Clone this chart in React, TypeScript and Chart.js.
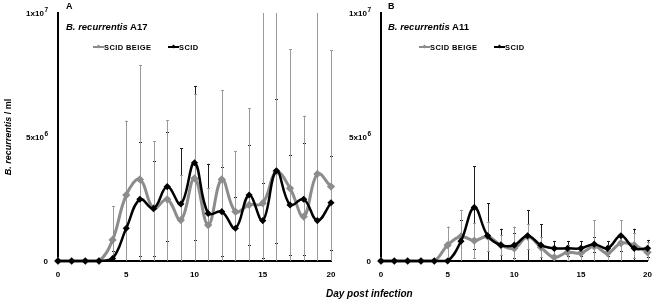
import React, { useEffect, useRef } from 'react';
import { Chart, registerables } from 'chart.js';

Chart.register(...registerables);

const FONT = "'Liberation Sans', Arial, Helvetica, sans-serif";

const days = [0, 1, 2, 3, 4, 5, 6, 7, 8, 9, 10, 11, 12, 13, 14, 15, 16, 17, 18, 19, 20];
const xTicks = [0, 5, 10, 15, 20];
const yTicks = [0, 5e6, 1e7];
const yTickBase = ['0', '5x10', '1x10'];
const yTickSup = ['', '6', '7'];

// Panel A: B. recurrentis A17
const a17Beige = [0, 0, 0, 0, 0.85e6, 2.66e6, 3.29e6, 2.12e6, 2.49e6, 1.65e6, 3.33e6, 1.45e6, 3.29e6, 1.99e6, 2.26e6, 2.33e6, 3.6e6, 2.93e6, 1.79e6, 3.51e6, 3.0e6];
const a17Scid = [0, 0, 0, 0, 0.1e6, 1.32e6, 2.49e6, 2.12e6, 3.0e6, 2.3e6, 3.96e6, 1.92e6, 1.99e6, 1.32e6, 2.66e6, 1.63e6, 3.64e6, 2.26e6, 2.49e6, 1.63e6, 2.35e6];
const a17BeigeErr = [0, 0, 0, 0, 1.37e6, 3.0e6, 4.6e6, 2.7e6, 3.2e6, 1.8e6, 3.4e6, 1.5e6, 3.6e6, 2.45e6, 3.9e6, 8.0e6, 7.0e6, 5.6e6, 4.07e6, 7.0e6, 5.5e6];
const a17ScidErr = [0, 0, 0, 0, 0.3e6, 1.3e6, 2.3e6, 1.9e6, 2.2e6, 2.25e6, 3.1e6, 2.0e6, 1.8e6, 1.26e6, 2.0e6, 1.5e6, 2.9e6, 2.0e6, 2.25e6, 1.9e6, 1.9e6];

// Panel B: B. recurrentis A11
const a11Beige = [0, 0, 0, 0, 0, 0.64e6, 0.99e6, 0.82e6, 0.99e6, 0.64e6, 0.51e6, 0.98e6, 0.55e6, 0.15e6, 0.35e6, 0.32e6, 0.59e6, 0.32e6, 0.72e6, 0.64e6, 0.35e6];
const a11Scid = [0, 0, 0, 0, 0, 0, 0.8e6, 2.16e6, 1.02e6, 0.64e6, 0.64e6, 1.02e6, 0.64e6, 0.51e6, 0.51e6, 0.51e6, 0.68e6, 0.51e6, 1.02e6, 0.51e6, 0.51e6];
const a11BeigeErr = [0, 0, 0, 0, 0, 0.75e6, 1.07e6, 0.7e6, 0.6e6, 0.4e6, 0.88e6, 0.5e6, 0.4e6, 0.3e6, 0.3e6, 0.3e6, 1.06e6, 0.3e6, 0.93e6, 0.5e6, 0.4e6];
const a11ScidErr = [0, 0, 0, 0, 0, 0, 0.87e6, 1.67e6, 1.3e6, 0.66e6, 0.5e6, 1.04e6, 0.84e6, 0.3e6, 0.3e6, 0.3e6, 0.3e6, 0.3e6, 0.63e6, 0.79e6, 0.34e6];

const GRAY = '#8c8c8c';
const GRAY_ERR = '#9a9a9a';
const BLACK = '#000000';
const BLACK_ERR = '#1e1e1e';

const errorBarPlugin = {
  id: 'errorBars',
  beforeDatasetsDraw(chart: any) {
    const { ctx, chartArea, scales } = chart;
    ctx.save();
    ctx.beginPath();
    ctx.rect(chartArea.left - 4, chartArea.top, chartArea.right - chartArea.left + 8, chartArea.bottom - chartArea.top);
    ctx.clip();
    chart.data.datasets.forEach((ds: any) => {
      const errs = ds.errors;
      if (!errs) return;
      ctx.strokeStyle = ds.errorColor;
      ctx.lineWidth = 1;
      ds.data.forEach((p: any, i: number) => {
        const e = errs[i];
        if (!e) return;
        const x = Math.round(scales.x.getPixelForValue(p.x)) + 0.5;
        const yTop = scales.y.getPixelForValue(p.y + e);
        const yBot = scales.y.getPixelForValue(Math.max(0, p.y - e));
        ctx.beginPath();
        ctx.moveTo(x, yTop);
        ctx.lineTo(x, yBot);
        ctx.moveTo(x - 1.5, Math.round(yTop) + 0.5);
        ctx.lineTo(x + 1.5, Math.round(yTop) + 0.5);
        ctx.moveTo(x - 1.5, Math.round(yBot) + 0.5);
        ctx.lineTo(x + 1.5, Math.round(yBot) + 0.5);
        ctx.stroke();
      });
    });
    ctx.restore();
  },
};

// y tick labels with a real superscript exponent, placed by the y scale
const yLabelPlugin = {
  id: 'yLabels',
  afterDraw(chart: any) {
    const { ctx, scales } = chart;
    const ys = scales.y;
    const right = ys.right - 10;
    ctx.save();
    ctx.fillStyle = '#000';
    yTicks.forEach((v, i) => {
      const y = ys.getPixelForValue(v);
      const sup = yTickSup[i];
      let x = right;
      if (sup) {
        ctx.font = `bold 6.5px ${FONT}`;
        ctx.textAlign = 'right';
        ctx.textBaseline = 'alphabetic';
        const w = ctx.measureText(sup).width;
        ctx.fillText(sup, x, y - 1);
        x -= w + 0.5;
      }
      ctx.font = `bold 8px ${FONT}`;
      ctx.textAlign = 'right';
      ctx.textBaseline = 'middle';
      ctx.fillText(yTickBase[i], x, y + 1);
    });
    ctx.restore();
  },
};

function toPoints(vals: number[]) {
  return days.map((d, i) => ({ x: d, y: vals[i] }));
}

type PanelProps = {
  left: number;
  width: number;
  padRight: number;
  yAxisWidth: number;
  beige: number[];
  scid: number[];
  beigeErr: number[];
  scidErr: number[];
};

function Panel({ left, width, padRight, yAxisWidth, beige, scid, beigeErr, scidErr }: PanelProps) {
  const ref = useRef<HTMLCanvasElement | null>(null);
  useEffect(() => {
    if (!ref.current) return;
    const tickFont = { family: FONT, size: 8, weight: 'bold' as const };
    const chart = new Chart(ref.current, {
      type: 'line',
      data: {
        datasets: [
          {
            label: 'SCID',
            data: toPoints(scid),
            borderColor: BLACK,
            backgroundColor: BLACK,
            borderWidth: 2.5,
            pointRadius: 1.8,
            pointStyle: 'rectRot',
            tension: 0.4,
            order: 0,
            clip: 6,
            errors: scidErr,
            errorColor: BLACK_ERR,
          } as any,
          {
            label: 'SCID BEIGE',
            data: toPoints(beige),
            borderColor: GRAY,
            backgroundColor: GRAY,
            borderWidth: 3,
            pointRadius: 2,
            pointStyle: 'rectRot',
            tension: 0.4,
            order: 1,
            clip: 6,
            errors: beigeErr,
            errorColor: GRAY_ERR,
          } as any,
        ],
      },
      options: {
        animation: false,
        responsive: false,
        devicePixelRatio: 1,
        layout: { padding: { top: 13, right: padRight, left: 0, bottom: 0 } },
        plugins: { legend: { display: false }, tooltip: { enabled: false } },
        scales: {
          x: {
            type: 'linear',
            min: 0,
            max: 20,
            afterBuildTicks: (s: any) => {
              s.ticks = xTicks.map((v) => ({ value: v }));
            },
            ticks: { font: tickFont, color: '#000', padding: 9, maxRotation: 0, autoSkip: false },
            grid: { display: false, drawTicks: false },
            border: { color: '#000', width: 2 },
            afterFit: (s: any) => {
              s.height = 43;
            },
          },
          y: {
            type: 'linear',
            min: 0,
            max: 1e7,
            afterBuildTicks: (s: any) => {
              s.ticks = yTicks.map((v) => ({ value: v }));
            },
            ticks: { display: false },
            grid: { display: false, drawTicks: false },
            border: { color: '#000', width: 2 },
            afterFit: (s: any) => {
              s.width = yAxisWidth;
            },
          },
        },
      } as any,
      plugins: [errorBarPlugin, yLabelPlugin],
    });
    return () => chart.destroy();
  }, []);
  return (
    <canvas
      ref={ref}
      width={width}
      height={304}
      style={{ position: 'absolute', left, top: 0, width, height: 304, display: 'block' }}
    />
  );
}

const txt = (extra: React.CSSProperties): React.CSSProperties => ({
  position: 'absolute',
  fontFamily: FONT,
  fontWeight: 'bold',
  color: '#000',
  lineHeight: 1,
  whiteSpace: 'nowrap',
  ...extra,
});

function LegendMarker({ left, top, color }: { left: number; top: number; color: string }) {
  return (
    <div style={{ position: 'absolute', left, top, width: 11, height: 5 }}>
      <div style={{ position: 'absolute', left: 0, top: 1.5, width: 11, height: 2, background: color }} />
      <div style={{ position: 'absolute', left: 4, top: 0.5, width: 3, height: 3, background: color, transform: 'rotate(45deg)' }} />
    </div>
  );
}

function PanelText({ x, letter, strain }: { x: number; letter: string; strain: string }) {
  return (
    <>
      <div style={txt({ left: x, top: 2, fontSize: 9 })}>{letter}</div>
      <div style={txt({ left: x, top: 22, fontSize: 9.5 })}>
        <i>B. recurrentis</i> {strain}
      </div>
    </>
  );
}

export default function App() {
  return (
    <div style={{ position: 'absolute', left: 0, top: 0, width: 661, height: 304, background: '#fff', overflow: 'hidden' }}>
      <Panel left={0} width={345} padRight={14} yAxisWidth={58} beige={a17Beige} scid={a17Scid} beigeErr={a17BeigeErr} scidErr={a17ScidErr} />
      <Panel left={330} width={331} padRight={8} yAxisWidth={51} beige={a11Beige} scid={a11Scid} beigeErr={a11BeigeErr} scidErr={a11ScidErr} />

      <PanelText x={66} letter="A" strain="A17" />
      <PanelText x={388} letter="B" strain="A11" />

      <LegendMarker left={93} top={44.5} color={GRAY} />
      <div style={txt({ left: 104, top: 43.5, fontSize: 7.5, letterSpacing: 0.4 })}>SCID BEIGE</div>
      <LegendMarker left={168} top={44.5} color={BLACK} />
      <div style={txt({ left: 179, top: 43.5, fontSize: 7.5, letterSpacing: 0.4 })}>SCID</div>

      <LegendMarker left={419} top={44.5} color={GRAY} />
      <div style={txt({ left: 430, top: 43.5, fontSize: 7.5, letterSpacing: 0.4 })}>SCID BEIGE</div>
      <LegendMarker left={494} top={44.5} color={BLACK} />
      <div style={txt({ left: 505, top: 43.5, fontSize: 7.5, letterSpacing: 0.4 })}>SCID</div>

      <div
        style={txt({
          left: 8 - 60,
          top: 137 - 6,
          width: 120,
          height: 12,
          lineHeight: '12px',
          fontSize: 9,
          textAlign: 'center',
          transform: 'rotate(-90deg)',
        })}
      >
        <i>B. recurrentis</i> / ml
      </div>

      <div style={txt({ left: 326, top: 289, fontSize: 10, fontStyle: 'italic' })}>Day post infection</div>
    </div>
  );
}
